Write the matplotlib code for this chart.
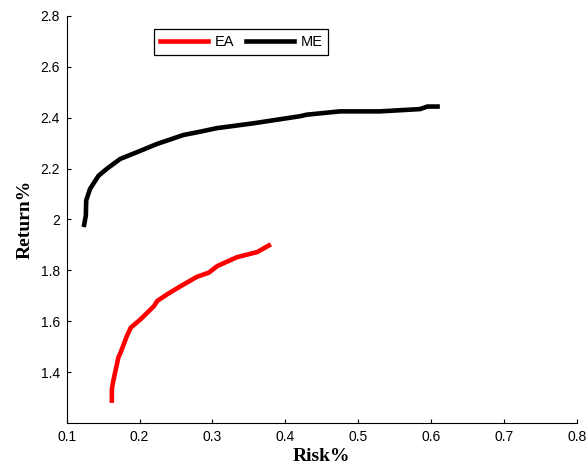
import matplotlib

matplotlib.use("Agg")
import matplotlib.pyplot as plt

# Efficient frontier (risk %, return %)
ea_risk = [0.162, 0.162, 0.164, 0.1665, 0.171, 0.174, 0.1826, 0.188, 0.2015,
           0.22, 0.2244, 0.238, 0.2564, 0.279, 0.295, 0.3067, 0.334, 0.3616,
           0.3775]
ea_return = [1.288, 1.333, 1.366, 1.399, 1.458, 1.477, 1.542, 1.575, 1.608,
             1.66, 1.68, 1.706, 1.738, 1.775, 1.791, 1.817, 1.852, 1.872,
             1.898]

me_risk = [0.124, 0.1263, 0.1268, 0.132, 0.1437, 0.155, 0.1734, 0.196, 0.224,
           0.2375, 0.26, 0.283, 0.306, 0.356, 0.4203, 0.4295, 0.475, 0.503,
           0.530, 0.585, 0.595, 0.609]
me_return = [1.979, 2.016, 2.075, 2.12, 2.172, 2.199, 2.238, 2.264, 2.297,
             2.31, 2.332, 2.345, 2.359, 2.378, 2.406, 2.412, 2.425, 2.425,
             2.425, 2.434, 2.444, 2.444]

x_ticks = [0.1, 0.2, 0.3, 0.4, 0.5, 0.6, 0.7, 0.8]
y_ticks = [1.4, 1.6, 1.8, 2.0, 2.2, 2.4, 2.6, 2.8]
x_labels = ["0.1", "0.2", "0.3", "0.4", "0.5", "0.6", "0.7", "0.8"]
y_labels = ["1.4", "1.6", "1.8", "2", "2.2", "2.4", "2.6", "2.8"]

plt.rcParams.update({
    "font.family": ["Liberation Sans", "DejaVu Sans"],
    "font.size": 10,
})

fig = plt.figure(figsize=(5.88, 4.70), dpi=100)
ax = fig.add_axes([0.1134, 0.1, 0.8674, 0.866])

ax.plot(ea_risk, ea_return, color="#ff0000", lw=3.3, label="EA")
ax.plot(me_risk, me_return, color="black", lw=3.3, label="ME")

ax.set_xlim(0.1, 0.8)
ax.set_ylim(1.2, 2.8)
ax.set_xticks(x_ticks)
ax.set_xticklabels(x_labels)
ax.set_yticks(y_ticks)
ax.set_yticklabels(y_labels)
ax.tick_params(direction="in", length=3, width=0.8, labelsize=10, pad=5)

ax.spines["top"].set_visible(False)
ax.spines["right"].set_visible(False)
for s in ("left", "bottom"):
    ax.spines[s].set_linewidth(0.8)

ax.set_xlabel("Risk%", family=["Liberation Serif"], fontweight="bold",
              fontsize=14, labelpad=3)
ax.set_ylabel("Return%", family=["Liberation Serif"], fontweight="bold",
              fontsize=14, labelpad=5)

leg = ax.legend(loc="upper left", bbox_to_anchor=(154 / 588, 1 - 29 / 470),
                bbox_transform=fig.transFigure, ncol=2, frameon=True,
                fancybox=False, edgecolor="black", framealpha=1,
                handlelength=3.3, handletextpad=0.45, columnspacing=0.8,
                borderpad=0.4, borderaxespad=0, fontsize=10.5)
leg.get_frame().set_linewidth(0.9)

fig.savefig("out.png", dpi=100)
